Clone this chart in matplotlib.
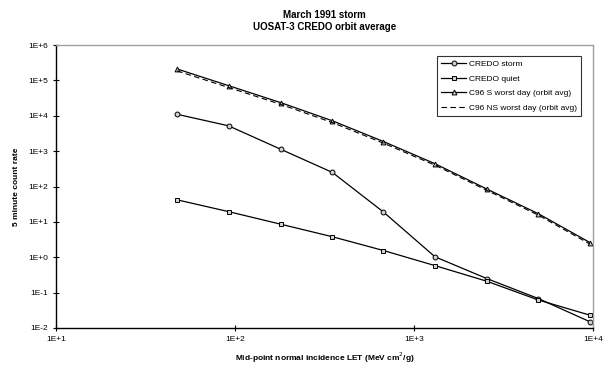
import matplotlib
matplotlib.use("Agg")
import matplotlib.pyplot as plt
from matplotlib.ticker import FixedLocator, NullLocator

plt.rcParams["font.family"] = ["Liberation Sans", "DejaVu Sans"]

# mid-point LET (MeV cm2/g)
let = [47.5, 92, 180, 350, 675, 1310, 2550, 4950, 9620]

credo_storm = [1.1e4, 5.2e3, 1.13e3, 250, 19, 1.03, 0.25, 0.068, 0.015]
credo_quiet = [42, 19.5, 8.6, 3.8, 1.55, 0.58, 0.21, 0.062, 0.023]
c96_s = [2.1e5, 7.1e4, 2.35e4, 7.2e3, 1.87e3, 440, 85, 17, 2.6]
c96_ns = [1.85e5, 6.3e4, 2.1e4, 6.4e3, 1.68e3, 400, 78, 15.5, 2.35]

yticks = [1e-2, 1e-1, 1e0, 1e1, 1e2, 1e3, 1e4, 1e5, 1e6]
ytick_labels = ["1E-2", "1E-1", "1E+0", "1E+1", "1E+2", "1E+3", "1E+4", "1E+5", "1E+6"]
xticks = [1e1, 1e2, 1e3, 1e4]
xtick_labels = ["1E+1", "1E+2", "1E+3", "1E+4"]

fig = plt.figure(figsize=(6.11, 3.67), dpi=100)
ax = fig.add_axes([56 / 611, 1 - 328 / 367, (593 - 56) / 611, (328 - 45) / 367])

mk = dict(markersize=3.5, markerfacecolor="#d0d0d0", markeredgecolor="black", markeredgewidth=0.7)
ax.plot(let, credo_storm, color="black", lw=0.9, marker="o", label="CREDO storm", **mk)
ax.plot(let, credo_quiet, color="black", lw=0.9, marker="s", label="CREDO quiet", **mk)
ax.plot(let, c96_s, color="black", lw=0.9, marker="^", label="C96 S worst day (orbit avg)", **mk)
ax.plot(let, c96_ns, color="black", lw=0.8, ls=(0, (5, 3)), label="C96 NS worst day (orbit avg)")

ax.set_xscale("log")
ax.set_yscale("log")
ax.set_xlim(10, 1e4)
ax.set_ylim(1e-2, 1e6)
ax.xaxis.set_major_locator(FixedLocator(xticks))
ax.yaxis.set_major_locator(FixedLocator(yticks))
ax.xaxis.set_minor_locator(NullLocator())
ax.yaxis.set_minor_locator(NullLocator())
ax.set_xticklabels(xtick_labels)
ax.set_yticklabels(ytick_labels)
ax.tick_params(direction="inout", length=5, width=0.8, labelsize=6, pad=3)

for s in ["left", "bottom"]:
    ax.spines[s].set_color("black")
    ax.spines[s].set_linewidth(1.0)
for s in ["top", "right"]:
    ax.spines[s].set_color("#a0a0a0")
    ax.spines[s].set_linewidth(1.0)

ax.set_title("March 1991 storm\nUOSAT-3 CREDO orbit average", fontsize=7, fontweight="bold", pad=11)
ax.set_xlabel("Mid-point normal incidence LET (MeV cm$^2$/g)", fontsize=6, fontweight="bold", labelpad=6)
ax.set_ylabel("5 minute count rate", fontsize=6, fontweight="bold", labelpad=6)

leg = ax.legend(loc="upper right", bbox_to_anchor=(0.985, 0.975), fontsize=6, frameon=True,
                fancybox=False, edgecolor="black", handlelength=3, borderpad=0.5,
                labelspacing=0.8, handletextpad=0.3)
leg.get_frame().set_linewidth(0.8)

fig.savefig("out.png", dpi=100)
